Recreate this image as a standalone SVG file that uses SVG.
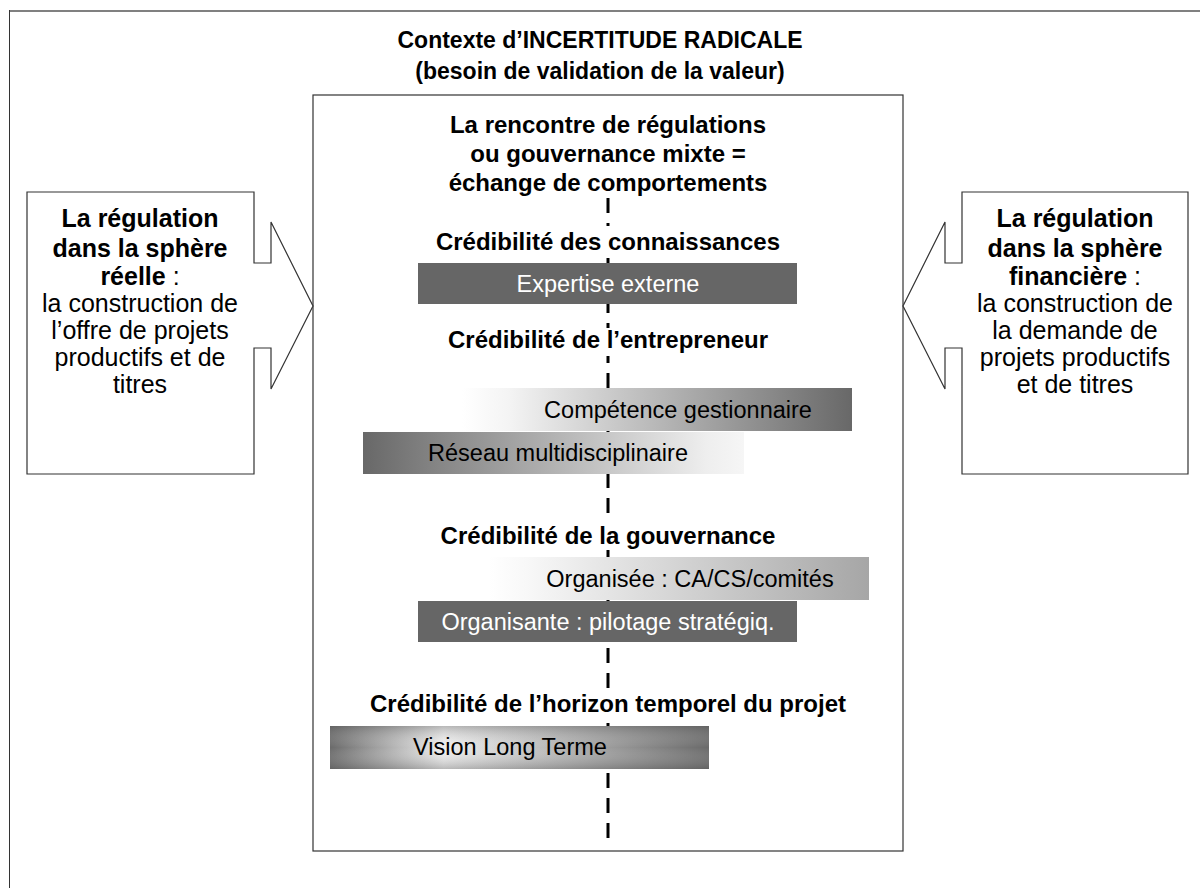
<svg xmlns="http://www.w3.org/2000/svg" width="1200" height="888" viewBox="0 0 1200 888">
<defs>
<style>
.b{font-family:"Liberation Sans",Arial,sans-serif;font-weight:bold;fill:#000;text-anchor:middle}
.r{font-family:"Liberation Sans",Arial,sans-serif;fill:#000;text-anchor:middle}
.w{font-family:"Liberation Sans",Arial,sans-serif;fill:#fff;text-anchor:middle;font-size:23.5px}
.t{font-size:23px}
.h{font-size:24px}
.s{font-size:23.5px}
.side{font-size:25px}
.box{fill:#fff;stroke:#333;stroke-width:1.2}
.lbl{fill:#fff}
.dark{fill:#666}
</style>
<linearGradient id="gComp" x1="0" y1="0" x2="1" y2="0">
<stop offset="0" stop-color="#ffffff"/><stop offset="0.12" stop-color="#f4f4f4"/><stop offset="1" stop-color="#686868"/>
</linearGradient>
<linearGradient id="gRes" x1="0" y1="0" x2="1" y2="0">
<stop offset="0" stop-color="#686868"/><stop offset="0.9" stop-color="#eeeeee"/><stop offset="1" stop-color="#f6f6f6"/>
</linearGradient>
<linearGradient id="gOrg" x1="0" y1="0" x2="1" y2="0">
<stop offset="0" stop-color="#ffffff"/><stop offset="0.1" stop-color="#f8f8f8"/><stop offset="1" stop-color="#a6a6a6"/>
</linearGradient>
<linearGradient id="gVis" x1="0" y1="0" x2="1" y2="0">
<stop offset="0" stop-color="#6a6a6a"/><stop offset="0.3" stop-color="#eeeeee"/><stop offset="1" stop-color="#6a6a6a"/>
</linearGradient>
<linearGradient id="gVisV" x1="0" y1="0" x2="0" y2="1">
<stop offset="0" stop-color="#555" stop-opacity="0.35"/><stop offset="0.5" stop-color="#fff" stop-opacity="0"/><stop offset="1" stop-color="#555" stop-opacity="0.35"/>
</linearGradient>
</defs>
<rect width="1200" height="888" fill="#fff"/>
<g id="frame">
<line x1="9" y1="11" x2="1200" y2="11" stroke="#808080" stroke-width="2"/>
<line x1="9.5" y1="10" x2="9.5" y2="888" stroke="#333" stroke-width="1"/>
<text class="b t" x="600" y="48">Contexte d’INCERTITUDE RADICALE</text>
<text class="b t" x="600" y="79">(besoin de validation de la valeur)</text>
</g>
<g id="central">
<rect class="box" x="313" y="95" width="590" height="756"/>
<text class="b h" x="608" y="133">La rencontre de régulations</text>
<text class="b h" x="608" y="162">ou gouvernance mixte =</text>
<text class="b h" x="608" y="191">échange de comportements</text>
</g>
<g id="connectors">
<line x1="608" y1="198" x2="608" y2="846" stroke="#000" stroke-width="3" stroke-dasharray="15 10"/>
</g>
<g id="left-region">
<path class="box" d="M27,192 H254 V263 H271 V222 L313,306 L271,389 V348 H254 V474 H27 Z"/>
<text class="b side" x="140" y="227">La régulation</text>
<text class="b side" x="140" y="257">dans la sphère</text>
<text class="r side" x="140" y="285"><tspan font-weight="bold">réelle</tspan> :</text>
<text class="r side" x="140" y="312">la construction de</text>
<text class="r side" x="140" y="339">l’offre de projets</text>
<text class="r side" x="140" y="366">productifs et de</text>
<text class="r side" x="140" y="393">titres</text>
</g>
<g id="right-region">
<path class="box" d="M1188,192 H962 V263 H945 V222 L903,306 L945,389 V348 H962 V474 H1188 Z"/>
<text class="b side" x="1075" y="227">La régulation</text>
<text class="b side" x="1075" y="257">dans la sphère</text>
<text class="r side" x="1075" y="285"><tspan font-weight="bold">financière</tspan> :</text>
<text class="r side" x="1075" y="312">la construction de</text>
<text class="r side" x="1075" y="339">la demande de</text>
<text class="r side" x="1075" y="366">projets productifs</text>
<text class="r side" x="1075" y="393">et de titres</text>
</g>
<g id="cred-connaissances">
<rect class="lbl" x="425" y="226" width="366" height="32"/>
<text class="b h" x="608" y="250">Crédibilité des connaissances</text>
<rect class="dark" x="418" y="263" width="379" height="41"/>
<text class="w" x="608" y="292">Expertise externe</text>
</g>
<g id="cred-entrepreneur">
<rect class="lbl" x="425" y="328" width="366" height="28"/>
<text class="b h" x="608" y="348">Crédibilité de l’entrepreneur</text>
<rect x="462" y="388" width="390" height="43" fill="url(#gComp)"/>
<text class="r s" x="678" y="418">Compétence gestionnaire</text>
<rect x="363" y="432" width="381" height="42" fill="url(#gRes)"/>
<text class="r s" x="558" y="461">Réseau multidisciplinaire</text>
</g>
<g id="cred-gouvernance">
<rect class="lbl" x="425" y="522" width="366" height="28"/>
<text class="b h" x="608" y="544">Crédibilité de la gouvernance</text>
<rect x="489" y="557" width="380" height="43" fill="url(#gOrg)"/>
<text class="r s" x="690" y="587">Organisée : CA/CS/comités</text>
<rect class="dark" x="418" y="601" width="379" height="41"/>
<text class="w" x="608" y="630">Organisante : pilotage stratégiq.</text>
</g>
<g id="cred-horizon">
<rect class="lbl" x="360" y="690" width="496" height="28"/>
<text class="b h" x="608" y="712">Crédibilité de l’horizon temporel du projet</text>
<rect x="330" y="726" width="379" height="43" fill="url(#gVis)"/>
<rect x="330" y="726" width="379" height="43" fill="url(#gVisV)"/>
<text class="r s" x="510" y="755">Vision Long Terme</text>
</g>
</svg>
